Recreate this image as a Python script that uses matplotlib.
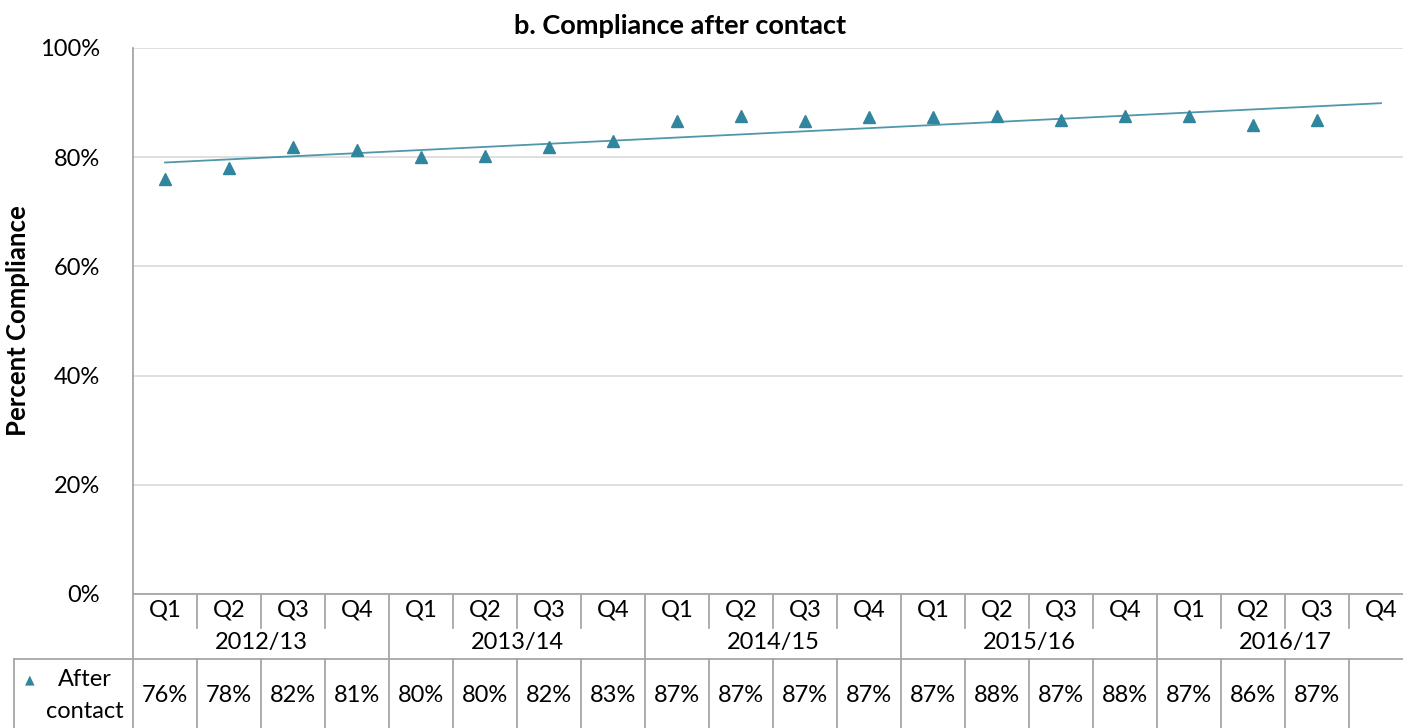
import numpy as np
import matplotlib.pyplot as plt
from matplotlib.transforms import blended_transform_factory

plt.rcParams["font.family"] = ["Lato", "DejaVu Sans"]

# ---------------------------------------------------------------- data
years = ["2012/13", "2013/14", "2014/15", "2015/16", "2016/17"]
quarters = ["Q1", "Q2", "Q3", "Q4"]
# compliance after contact (fraction), read from the plotted points
after_contact = [0.760, 0.780, 0.818, 0.813,
                 0.800, 0.802, 0.818, 0.829,
                 0.866, 0.875, 0.866, 0.873,
                 0.873, 0.875, 0.868, 0.875,
                 0.875, 0.859, 0.868]
# labels shown in the data table
table_labels = ["76%", "78%", "82%", "81%", "80%", "80%", "82%", "83%",
                "87%", "87%", "87%", "87%", "87%", "88%", "87%", "88%",
                "87%", "86%", "87%", ""]

teal = "#31859C"
grid_c = "#D9D9D9"
line_c = "#A6A6A6"
W, H = 1403, 728

n_cat = len(years) * len(quarters)
x = np.arange(len(after_contact))
x_all = np.arange(n_cat)

fig = plt.figure(figsize=(W / 100, H / 100), dpi=100)
ax = fig.add_axes([133 / W, 134 / H, 1280 / W, 546 / H])

ax.plot(x, after_contact, ls="none", marker="^", ms=8, color=teal, zorder=3)

# linear trend line over all 20 quarters
coef = np.polyfit(x, after_contact, 1)
ax.plot(x_all, np.polyval(coef, x_all), color=teal, lw=1.3, alpha=0.85, zorder=2)

ax.set_xlim(-0.5, n_cat - 0.5)
ax.set_ylim(0, 1)
ax.set_yticks(np.arange(0, 1.01, 0.2))
ax.set_yticklabels([f"{int(round(v * 100))}%" for v in np.arange(0, 1.01, 0.2)], fontsize=17)
ax.tick_params(axis="y", length=0, pad=24)
ax.set_xticks([])
ax.grid(axis="y", color=grid_c, lw=1.2)
ax.set_axisbelow(True)
for s in ["top", "right", "bottom"]:
    ax.spines[s].set_visible(False)
ax.spines["left"].set_color(line_c)
ax.spines["left"].set_linewidth(1.3)

fig.text(680 / W, 1 - 26 / H, "b. Compliance after contact", ha="center", va="center",
         fontsize=19.5, fontweight="bold")
fig.text(18 / W, 1 - 321 / H, "Percent Compliance", rotation=90, ha="center", va="center",
         fontsize=18.5, fontweight="bold")

# ---------------------------------------------------------------- data table
tr = blended_transform_factory(ax.transData, fig.transFigure)


def fy(py):
    return 1 - py / H


lk = dict(color=line_c, lw=1.3, transform=tr, clip_on=False)
# horizontal lines
ax.plot([-0.5, n_cat - 0.5], [fy(594), fy(594)], **lk)
row_left = -0.5 - 119 / 64
ax.plot([row_left, n_cat - 0.5], [fy(659), fy(659)], **lk)
# left legend box
ax.plot([row_left, row_left], [fy(659), 0], **lk)
ax.plot([-0.5, -0.5], [fy(594), 0], **lk)
for i in range(1, n_cat + 1):
    xb = i - 0.5
    if i % 4 == 0:
        ax.plot([xb, xb], [fy(594), 0], **lk)
    else:
        ax.plot([xb, xb], [fy(594), fy(628)], **lk)
        ax.plot([xb, xb], [fy(659), 0], **lk)

for i in range(n_cat):
    ax.text(i, fy(610), quarters[i % 4], transform=tr, ha="center", va="center", fontsize=17)
    ax.text(i, fy(695), table_labels[i], transform=tr, ha="center", va="center", fontsize=17)
for j, yr in enumerate(years):
    ax.text(j * 4 + 1.5, fy(643), yr, transform=tr, ha="center", va="center", fontsize=17)

fig.text(30 / W, fy(680), "\u25B2", color=teal, ha="center", va="center", fontsize=9,
         family=["DejaVu Sans"])
fig.text(85 / W, fy(680), "After", ha="center", va="center", fontsize=17)
fig.text(85 / W, fy(711), "contact", ha="center", va="center", fontsize=17)

fig.savefig("out.png", dpi=100)
